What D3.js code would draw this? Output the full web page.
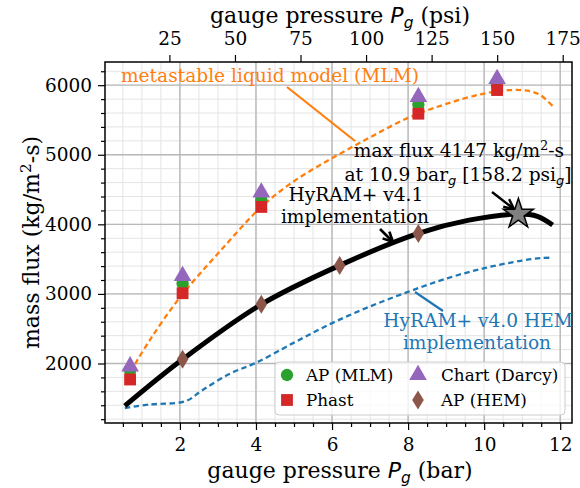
<!DOCTYPE html>
<html><head><meta charset="utf-8">
<script src="https://cdn.jsdelivr.net/npm/d3@7"></script>
<style>
body{margin:0;background:#fff;}
svg text{font-family:"DejaVu Serif",serif;}
</style></head>
<body>
<svg id="c" width="580" height="488"></svg>
<script>
// ---- data ----
const psiPerBar = 14.5038;
const xTicksBar = [2,4,6,8,10,12];
const xTicksPsi = [25,50,75,100,125,150,175];
const yTicks = [2000,3000,4000,5000,6000];

const mlmCurve = [[0.7,1880],[1.2,2330],[2.0,2950],[3.0,3580],[4.14,4250],[5,4620],[6,4950],[7,5250],[8,5530],[9,5730],[10,5880],[10.7,5930],[11.2,5915],[11.5,5850],[11.8,5700]];
const v41Curve = [[0.55,1390],[2.07,2060],[4.14,2850],[6.2,3410],[8.27,3870],[9.6,4060],[10.9,4147],[11.4,4115],[11.8,3990]];
const hemCurve = [[0.55,1360],[1.2,1410],[2.15,1460],[2.6,1620],[3.3,1850],[4,2010],[5,2300],[6,2580],[7,2820],[8,3030],[9,3220],[10,3370],[11,3480],[11.5,3515],[11.8,3520]];

const apMLM = [[0.69,1900],[2.07,3150],[4.14,4350],[8.27,5720],[10.34,6000]];
const phast = [[0.69,1770],[2.07,3010],[4.14,4250],[8.27,5590],[10.34,5930]];
const chartDarcy = [[0.69,1960],[2.07,3260],[4.14,4460],[8.27,5830],[10.34,6090]];
const apHEM = [[2.07,2060],[4.14,2850],[6.2,3410],[8.27,3870]];
const maxPoint = [10.9,4147];

// ---- layout ----
const L=105,R=572,T=62,B=423;
const FT=18.5, FA=22, FN=18.6, FL=16.8;
const svg=d3.select("#c");
const x=d3.scaleLinear().domain([0.03,12.31]).range([L,R]);
const xp=d3.scaleLinear().domain([0.03*psiPerBar,12.31*psiPerBar]).range([L,R]);
const y=d3.scaleLinear().domain([1145,6333]).range([B,T]);

const C={orange:"#ff7f0e",blue:"#1f77b4",green:"#2ca02c",red:"#d62728",purple:"#9467bd",brown:"#8c564b"};

// grid
const g=svg.append("g");
const minorX=d3.range(0.5,12.01,0.5), minorY=d3.range(1200,6301,200);
g.selectAll(".mx").data(minorX).join("line").attr("x1",d=>x(d)).attr("x2",d=>x(d)).attr("y1",T).attr("y2",B).attr("stroke","#e4e4e4").attr("stroke-width",1);
g.selectAll(".my").data(minorY).join("line").attr("y1",d=>y(d)).attr("y2",d=>y(d)).attr("x1",L).attr("x2",R).attr("stroke","#e4e4e4").attr("stroke-width",1);
g.selectAll(".Mx").data(xTicksBar).join("line").attr("x1",d=>x(d)).attr("x2",d=>x(d)).attr("y1",T).attr("y2",B).attr("stroke","#b8b8b8").attr("stroke-width",1.4);
g.selectAll(".My").data(yTicks).join("line").attr("y1",d=>y(d)).attr("y2",d=>y(d)).attr("x1",L).attr("x2",R).attr("stroke","#b8b8b8").attr("stroke-width",1.4);

// curves
const line=d3.line().x(d=>x(d[0])).y(d=>y(d[1])).curve(d3.curveCatmullRom.alpha(0.5));
svg.append("path").attr("d",line(mlmCurve)).attr("fill","none").attr("stroke",C.orange).attr("stroke-width",2.3).attr("stroke-dasharray","5.5,3.5");
svg.append("path").attr("d",line(hemCurve)).attr("fill","none").attr("stroke",C.blue).attr("stroke-width",2.3).attr("stroke-dasharray","5.5,3.5");
svg.append("path").attr("d",line(v41Curve)).attr("fill","none").attr("stroke","#000").attr("stroke-width",5);

// markers
const sym=(type,size)=>d3.symbol().type(type).size(size)();
function markers(data,type,size,color){
  svg.append("g").selectAll("path").data(data).join("path")
   .attr("d",sym(type,size)).attr("transform",d=>`translate(${x(d[0])},${y(d[1])})`)
   .attr("fill",color);
}
markers(apMLM,d3.symbolCircle,120,C.green);
markers(phast,d3.symbolSquare,140,C.red);
markers(chartDarcy,d3.symbolTriangle,135,C.purple);
const diamondPath="M0,-9.5L5.8,0L0,9.5L-5.8,0Z";
svg.append("g").selectAll("path").data(apHEM).join("path").attr("d",diamondPath)
  .attr("transform",d=>`translate(${x(d[0])},${y(d[1])})`).attr("fill",C.brown);
svg.append("path").attr("d",sym(d3.symbolStar,280)).attr("transform",`translate(${x(maxPoint[0])},${y(maxPoint[1])})`)
  .attr("fill","#808080").attr("stroke","#000").attr("stroke-width",1.5);

// axes frame & ticks
svg.append("rect").attr("x",L).attr("y",T).attr("width",R-L).attr("height",B-T).attr("fill","none").attr("stroke","#000").attr("stroke-width",1.5);
const xb=svg.append("g").attr("transform",`translate(0,${B})`).call(d3.axisBottom(x).tickValues(xTicksBar).tickSize(7).tickPadding(8).tickFormat(d3.format("d")));
const xbm=svg.append("g").attr("transform",`translate(0,${B})`).call(d3.axisBottom(x).tickValues(minorX.filter(v=>v%2!==0)).tickSize(4).tickFormat(""));
const xt=svg.append("g").attr("transform",`translate(0,${T})`).call(d3.axisTop(xp).tickValues(xTicksPsi).tickSize(7).tickPadding(10).tickFormat(d3.format("d")));
const yl=svg.append("g").attr("transform",`translate(${L},0)`).call(d3.axisLeft(y).tickValues(yTicks).tickSize(7).tickPadding(6).tickFormat(d3.format("d")));
const ylm=svg.append("g").attr("transform",`translate(${L},0)`).call(d3.axisLeft(y).tickValues(minorY.filter(v=>v%1000!==0)).tickSize(4).tickFormat(""));
[xb,xbm,xt,yl,ylm].forEach(s=>{s.select(".domain").remove();s.selectAll("line").attr("stroke","#000").attr("stroke-width",1.2);
  s.selectAll("text").attr("font-family","DejaVu Serif").attr("font-size",FT).attr("fill","#000");});

// axis labels
function labelPg(sel,unit){
  sel.append("tspan").text("gauge pressure ");
  sel.append("tspan").text("P").attr("font-family","DejaVu Sans").attr("font-style","italic");
  sel.append("tspan").text("g").attr("font-family","DejaVu Sans").attr("font-style","italic").attr("font-size","0.7em").attr("dy",4.5);
  sel.append("tspan").text(" ("+unit+")").attr("dy",-4.5);
}
labelPg(svg.append("text").attr("x",340).attr("y",478).attr("text-anchor","middle").attr("font-size",FA),"bar");
labelPg(svg.append("text").attr("x",340).attr("y",23).attr("text-anchor","middle").attr("font-size",FA),"psi");
const yt=svg.append("text").attr("transform",`translate(39,${(T+B)/2}) rotate(-90)`).attr("text-anchor","middle").attr("font-size",FA);
yt.append("tspan").text("mass flux (kg/m");
yt.append("tspan").text("2").attr("font-size","0.7em").attr("dy",-8);
yt.append("tspan").text("-s)").attr("dy",8);

// annotations
function arrow(x1,y1,x2,y2,color,w,head){
  svg.append("line").attr("x1",x1).attr("y1",y1).attr("x2",x2).attr("y2",y2).attr("stroke",color).attr("stroke-width",w);
  if(head){
    const a=Math.atan2(y2-y1,x2-x1), h=11, s=0.45;
    [a+Math.PI-s,a+Math.PI+s].forEach(b=>svg.append("line").attr("x1",x2).attr("y1",y2).attr("x2",x2+h*Math.cos(b)).attr("y2",y2+h*Math.sin(b)).attr("stroke",color).attr("stroke-width",w));
  }
}
svg.append("text").attr("x",270).attr("y",82).attr("text-anchor","middle").attr("font-size",FN).attr("fill",C.orange).text("metastable liquid model (MLM)");
arrow(287,87,355,141,C.orange,2.2,false);

const t1=svg.append("text").attr("x",459).attr("y",157).attr("text-anchor","middle").attr("font-size",FN);
t1.append("tspan").text("max flux 4147 kg/m");
t1.append("tspan").text("2").attr("font-size","0.7em").attr("dy",-7);
t1.append("tspan").text("-s").attr("dy",7);
const t2=svg.append("text").attr("x",458).attr("y",181).attr("text-anchor","middle").attr("font-size",FN);
t2.append("tspan").text("at 10.9 bar");
t2.append("tspan").text("g").attr("font-family","DejaVu Sans").attr("font-style","italic").attr("font-size","0.7em").attr("dy",3.5);
t2.append("tspan").text(" [158.2 psi").attr("dy",-3.5);
t2.append("tspan").text("g").attr("font-family","DejaVu Sans").attr("font-style","italic").attr("font-size","0.7em").attr("dy",3.5);
t2.append("tspan").text("]").attr("dy",-3.5);
arrow(492,192,514,209,"#000",2.4,true);

svg.append("text").attr("x",356).attr("y",201).attr("text-anchor","middle").attr("font-size",FN).text("HyRAM+ v4.1");
svg.append("text").attr("x",355).attr("y",223).attr("text-anchor","middle").attr("font-size",FN).text("implementation");
arrow(380,229,393,242,"#000",2.6,true);

svg.append("text").attr("x",478).attr("y",327).attr("text-anchor","middle").attr("font-size",FN).attr("fill",C.blue).text("HyRAM+ v4.0 HEM");
svg.append("text").attr("x",477).attr("y",349).attr("text-anchor","middle").attr("font-size",FN).attr("fill",C.blue).text("implementation");
arrow(415,292,443,311,C.blue,2.2,false);

// legend
const lg=svg.append("g");
lg.append("rect").attr("x",275).attr("y",362).attr("width",290).attr("height",53).attr("rx",4).attr("fill","#fff").attr("fill-opacity",0.8).attr("stroke","#ccc");
const legendItems=[
  {label:"AP (MLM)",col:0,row:0,type:"circle",color:C.green},
  {label:"Phast",col:0,row:1,type:"square",color:C.red},
  {label:"Chart (Darcy)",col:1,row:0,type:"triangle",color:C.purple},
  {label:"AP (HEM)",col:1,row:1,type:"diamond",color:C.brown}];
legendItems.forEach(it=>{
  const mx=it.col?418:287, my=it.row?400:375;
  let p;
  if(it.type==="diamond") p=lg.append("path").attr("d",diamondPath);
  else p=lg.append("path").attr("d",sym({circle:d3.symbolCircle,square:d3.symbolSquare,triangle:d3.symbolTriangle}[it.type],it.type==="square"?140:(it.type==="circle"?120:135)));
  p.attr("transform",`translate(${mx},${my})`).attr("fill",it.color);
  lg.append("text").attr("x",it.col?441:306).attr("y",my+6).attr("font-size",FL).text(it.label);
});
</script>
</body></html>
